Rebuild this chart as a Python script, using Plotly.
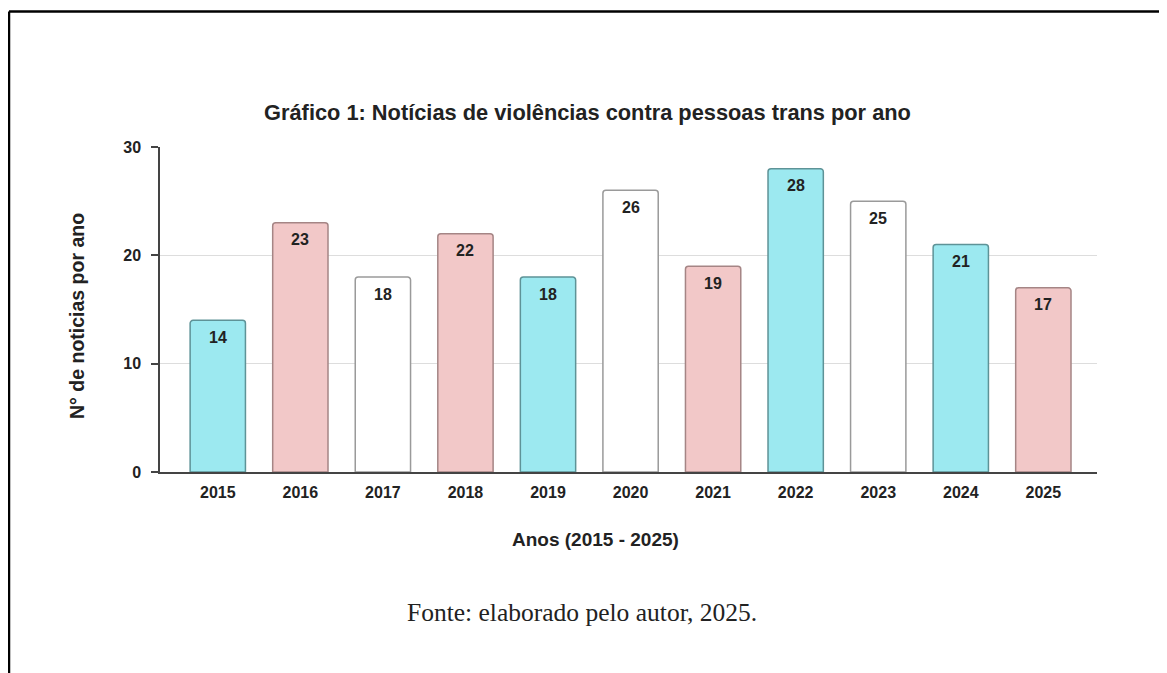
import plotly.graph_objects as go

years = ["2015", "2016", "2017", "2018", "2019", "2020", "2021", "2022", "2023", "2024", "2025"]
counts = [14, 23, 18, 22, 18, 26, 19, 28, 25, 21, 17]
fill_colors = ["#9ce9f0", "#f2c8c8", "#ffffff", "#f2c8c8", "#9ce9f0", "#ffffff",
               "#f2c8c8", "#9ce9f0", "#ffffff", "#9ce9f0", "#f2c8c8"]
edge_colors = ["#5e9397", "#a58585", "#9a9a9a", "#a58585", "#5e9397", "#9a9a9a",
               "#a58585", "#5e9397", "#9a9a9a", "#5e9397", "#a58585"]
y_ticks = [0, 10, 20, 30]

title_text = "Gráfico 1: Notícias de violências contra pessoas trans por ano"
y_title = "N° de noticias por ano"
x_title = "Anos (2015 - 2025)"
source_text = "Fonte: elaborado pelo autor, 2025."

SANS = "Liberation Sans, Arial"
SERIF = "Liberation Serif, Times New Roman"
INK = "#222222"

fig = go.Figure()
fig.add_trace(go.Bar(
    x=years, y=counts,
    marker=dict(color=fill_colors, line=dict(color=edge_colors, width=1.5), cornerradius=3),
    width=0.67,
    hoverinfo="skip",
))

# value labels inside the top of each bar
for i, v in enumerate(counts):
    fig.add_annotation(x=i, y=v, xref="x", yref="y", text=f"<b>{v}</b>",
                       showarrow=False, yshift=-17,
                       font=dict(family=SANS, size=16, color=INK))

fig.update_layout(
    width=1159, height=665,
    margin=dict(l=152, r=70, t=139, b=201),
    paper_bgcolor="white", plot_bgcolor="white",
    showlegend=False,
    title=dict(text=f"<b>{title_text}</b>", x=0.5, xref="container", xanchor="center",
               y=1 - 104 / 665, yref="container", yanchor="middle",
               font=dict(family=SANS, size=21.8, color=INK)),
    xaxis=dict(type="category", range=[-0.7, 10.65], showgrid=False, showline=True,
               linecolor="#444444", linewidth=1.5, ticks="",
               tickfont=dict(family=SANS, size=16, color=INK), ticklabelstandoff=5,
               tickprefix="<b>", ticksuffix="</b>", fixedrange=True),
    yaxis=dict(range=[0, 30], tickvals=y_ticks, ticktext=[f"<b>{t}</b>" for t in y_ticks],
               showgrid=True, gridcolor="#dddddd",
               gridwidth=1, showline=True, linecolor="#444444", linewidth=1.5,
               ticks="outside", ticklen=7, tickcolor="#444444", tickwidth=1.5,
               tickfont=dict(family=SANS, size=16, color=INK), ticklabelstandoff=7,
               zeroline=False, fixedrange=True),
)

fig.add_annotation(text=f"<b>{y_title}</b>", xref="paper", yref="paper",
                   x=(77 - 160) / 937, y=(472 - 316) / 325, textangle=-90, showarrow=False,
                   xanchor="center", yanchor="middle",
                   font=dict(family=SANS, size=19.5, color=INK))
fig.add_annotation(text=f"<b>{x_title}</b>", xref="paper", yref="paper",
                   x=(595 - 160) / 937, y=(472 - 539) / 325, showarrow=False,
                   xanchor="center", yanchor="middle",
                   font=dict(family=SANS, size=19, color=INK))
fig.add_annotation(text=source_text, xref="paper", yref="paper",
                   x=(582 - 160) / 937, y=(472 - 612) / 325, showarrow=False,
                   xanchor="center", yanchor="middle",
                   font=dict(family=SERIF, size=25.5, color=INK))

# page border (top and left edges)
bx = (9 - 160) / 937
by = (472 - 11.5) / 325
fig.add_shape(type="line", xref="paper", yref="paper",
              x0=bx, x1=1.2, y0=by, y1=by,
              line=dict(color="#000000", width=2.5))
fig.add_shape(type="line", xref="paper", yref="paper",
              x0=bx, x1=bx, y0=by, y1=-0.8,
              line=dict(color="#000000", width=2.5))

fig.write_html("out.html")
